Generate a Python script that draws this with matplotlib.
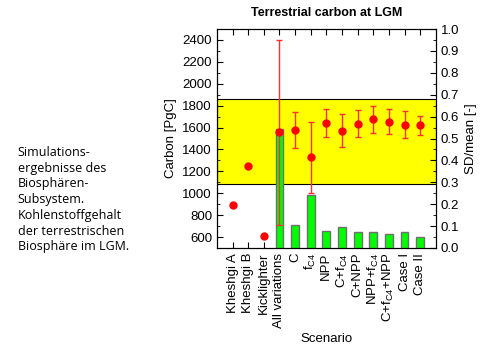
import numpy as np
import matplotlib
matplotlib.use("Agg")
import matplotlib.pyplot as plt
from matplotlib.ticker import MultipleLocator

plt.rcParams['font.family'] = ['Liberation Sans', 'DejaVu Sans']
plt.rcParams['mathtext.fontset'] = 'custom'
plt.rcParams['mathtext.rm'] = 'Liberation Sans'
plt.rcParams['mathtext.it'] = 'Liberation Sans'

# scenario data
scenarios = ['Kheshgi A', 'Kheshgi B', 'Kicklighter', 'All variations', 'C',
             r'f$_{\mathrm{C4}}$', 'NPP', r'C+f$_{\mathrm{C4}}$', 'C+NPP',
             r'NPP+f$_{\mathrm{C4}}$', r'C+f$_{\mathrm{C4}}$+NPP', 'Case I', 'Case II']
carbon = [890, 1250, 605, 1555, 1580, 1327, 1645, 1570, 1635, 1675, 1655, 1627, 1620]
carbon_sd = [0, 0, 0, 845, 165, 327, 128, 150, 123, 126, 114, 122, 86]
sd_mean = [0, 0, 0, 0.542, 0.104, 0.242, 0.078, 0.094, 0.072, 0.072, 0.064, 0.072, 0.049]
band_lo, band_hi = 1085, 1865

x = np.arange(1, len(scenarios) + 1)

fig = plt.figure(figsize=(4.81, 3.52), dpi=100)
ax = fig.add_axes([0.451, 0.2955, 0.455, 0.622])
ax.axhspan(band_lo, band_hi, facecolor='#ffff00', edgecolor='black', lw=0.8, zorder=0)
ax.set_xlim(0, len(scenarios) + 1)
ax.set_ylim(500, 2500)

# bars on the SD/mean axis
ax2 = ax.twinx()
ax2.set_ylim(0, 1.0)
has_sd = np.array(sd_mean) > 0
ax2.bar(x[has_sd], np.array(sd_mean)[has_sd], width=0.5, color='#00ff00',
        edgecolor='#707070', lw=1.0, zorder=2)

# points on top
ax3 = ax.twinx()
ax3.set_ylim(500, 2500)
ax3.axis('off')
c = np.array(carbon)
s = np.array(carbon_sd)
ax3.errorbar(x[has_sd], c[has_sd], yerr=s[has_sd], fmt='o', color='red',
             ms=5, ecolor='#ff3030', elinewidth=1.0, capsize=2.5, capthick=1.0)
ax3.plot(x[~has_sd], c[~has_sd], 'o', color='red', ms=5)

ax.set_xticks(x)
ax.set_xticklabels(scenarios, rotation=90, fontsize=9)
ax.yaxis.set_major_locator(MultipleLocator(200))
ax.yaxis.set_minor_locator(MultipleLocator(100))
ax.set_yticks(np.arange(600, 2401, 200))
ax2.yaxis.set_major_locator(MultipleLocator(0.1))
ax2.yaxis.set_minor_locator(MultipleLocator(0.05))
ax2.set_yticklabels([f'{v:.1f}' for v in ax2.get_yticks()])
ax.tick_params(axis='both', which='both', direction='in', top=True, labelsize=9.5)
ax.tick_params(axis='y', which='major', length=4)
ax.tick_params(axis='y', which='minor', length=2)
ax2.tick_params(axis='y', which='both', direction='in', labelsize=9.5)
ax2.tick_params(axis='y', which='major', length=4)
ax2.tick_params(axis='y', which='minor', length=2)
ax.tick_params(axis='x', length=4)

ax.set_ylabel('Carbon [PgC]', fontsize=9.5)
ax2.set_ylabel('SD/mean [-]', fontsize=9.5)
ax.set_xlabel('Scenario', fontsize=9.5)
ax.set_title('Terrestrial carbon at LGM', fontsize=9, fontweight='bold', pad=9.5)

fig.text(0.037, 0.585,
         'Simulations-\nergebnisse des\nBiosphären-\nSubsystem.\nKohlenstoffgehalt\nder terrestrischen\nBiosphäre im LGM.',
         family=['Open Sans', 'DejaVu Sans'], fontsize=9.0, va='top', ha='left', linespacing=1.27)

fig.savefig('out.png', dpi=100)
